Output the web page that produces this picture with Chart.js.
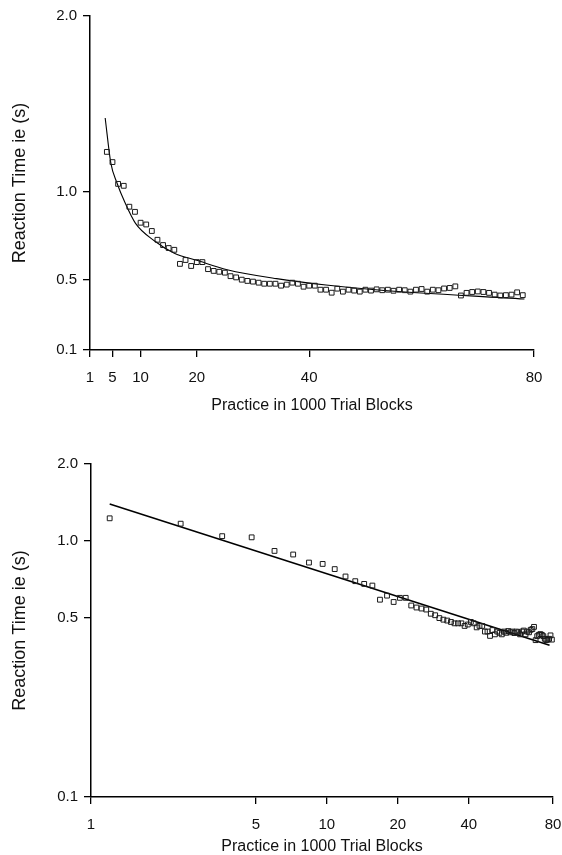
<!DOCTYPE html>
<html><head><meta charset="utf-8">
<script src="https://cdn.jsdelivr.net/npm/chart.js@4.4.1/dist/chart.umd.min.js"></script>
<style>
html,body{margin:0;padding:0;background:#fff;width:562px;height:855px;overflow:hidden}
canvas{position:absolute;left:0;display:block;background:#fff}
#c1{top:0}
#c2{top:425px}
</style></head><body>
<canvas id="c1" width="562" height="425"></canvas>
<canvas id="c2" width="562" height="430"></canvas>
<script>
// Reaction time per block (s)
const reactionTime = [1.227,1.169,1.045,1.034,0.915,0.886,0.824,0.814,0.777,0.727,
  0.697,0.680,0.670,0.590,0.612,0.578,0.600,0.600,0.560,0.550,
  0.545,0.540,0.520,0.513,0.500,0.493,0.489,0.483,0.477,0.477,
  0.477,0.466,0.472,0.483,0.477,0.460,0.466,0.466,0.443,0.443,
  0.426,0.449,0.432,0.443,0.438,0.432,0.443,0.438,0.445,0.440,
  0.443,0.437,0.443,0.440,0.432,0.443,0.447,0.432,0.443,0.440,
  0.450,0.453,0.462,0.410,0.425,0.430,0.433,0.430,0.425,0.415,
  0.410,0.412,0.415,0.428,0.412];
// x positions of the points in the top (linear) panel
const blocksTop = [4,5,6,7,8,9,10,11,12,13,14,15,16,17,18,19,20,21,22,23,24,25,26,27,28,29,30,
  31,32,33,34,35,36,37,38,39,40,41,42,43,44,45,46,47,48,49,50,51,52,53,54,55,56,57,58,59,60,
  61,62,63,64,65,66,67,68,69,70,71,72,73,74,75,76,77,78];
// x positions of the points in the bottom (log-log) panel
const blocksBottom = [1.2,2.4,3.6,4.8,6.0,7.2,8.4,9.6,10.8,12.0,13.2,14.4,15.6,16.8,18.0,19.2,20.4,
  21.6,22.8,24.0,25.2,26.4,27.6,28.8,30.0,31.2,32.4,33.6,34.8,36.0,37.2,38.4,39.6,40.8,42.0,43.2,
  44.4,45.6,46.8,48.0,49.2,50.4,51.6,52.8,54.0,55.2,56.4,57.6,58.8,60.0,61.2,62.4,63.6,64.8,66.0,
  67.2,68.4,69.6,70.8,72.0,73.2,74.4,75.6,76.8,78.0,79.2,80.4,81.6,82.8,84.0,85.2,86.4,87.6,88.8,90.0];
// fitted curve (top panel)
const fitCurveX = [3.7,4.7,5.8,7.2,9.1,12.5,16,20,25.4,34.2,43,51.8,78.3];
const fitCurveY = [1.42,1.165,1.05,0.94,0.82,0.72,0.65,0.61,0.557,0.506,0.47,0.443,0.39];
// fitted straight line (bottom panel)
const fitLineX = [1.2,88];
const fitLineY = [1.395,0.392];
// axis ticks
const yTickValues = [0.1,0.5,1.0,2.0];
const yTickLabels = ['0.1','0.5','1.0','2.0'];
const xTickValuesTop = [1,5,10,20,40,80];
const xTickValuesBottom = [1,5,10,20,40,91];
const xTickLabels = ['1','5','10','20','40','80'];
const yTitle = 'Reaction Time ie (s)';
const xTitle = 'Practice in 1000 Trial Blocks';

const FONT = '"Liberation Sans", Arial, Helvetica, sans-serif';
const INK = '#111';

function pts(xs, ys){ return xs.map((x,i)=>({x:x, y:ys[i]})); }

function axisCommon(){
  return {
    grid:{display:true, drawOnChartArea:false, drawTicks:true, tickLength:7, color:'#000', lineWidth:1.3},
    border:{display:true, color:'#000', width:1.5}
  };
}

function makeChart(id, cfg){
  const xAxis = Object.assign(axisCommon(), {
    type: cfg.xType, min: cfg.xMin, max: cfg.xMax,
    afterBuildTicks: s => { s.ticks = cfg.xTicks.map(v=>({value:v})); },
    afterFit: s => { s.height = cfg.xHeight; s.paddingLeft = 0; s.paddingRight = 0; },
    ticks:{autoSkip:false, maxRotation:0, padding:12, color:INK, font:{family:FONT, size:15},
      callback:(v,i)=>xTickLabels[i]},
    title:{display:true, text:xTitle, color:INK, font:{family:FONT, size:16, lineHeight:cfg.xTitleLH}, padding:{top:0,bottom:cfg.xTitlePad}}
  });
  const yAxis = Object.assign(axisCommon(), {
    type: cfg.yType, min:0.1, max:2.0,
    afterBuildTicks: s => { s.ticks = yTickValues.map(v=>({value:v})); },
    afterFit: s => { s.width = cfg.yWidth; s.paddingTop = 0; s.paddingBottom = 0; },
    ticks:{autoSkip:false, padding:6, color:INK, font:{family:FONT, size:15},
      callback:(v,i)=>yTickLabels[i]},
    title:{display:true, text:yTitle, color:INK, font:{family:FONT, size:18}, padding:{top:9,bottom:0}}
  });
  return new Chart(document.getElementById(id), {
    type:'scatter',
    data:{datasets:[
      {data: pts(cfg.px, reactionTime), showLine:false, pointStyle:'rect', pointRadius:3.4,
       pointBorderWidth:1, borderColor:'#1a1a1a', backgroundColor:'rgba(255,255,255,0)', clip:false},
      {data: cfg.line, showLine:true, pointRadius:0, borderColor:'#000', borderWidth:cfg.lineW,
       cubicInterpolationMode:'monotone', fill:false, clip:false}
    ]},
    options:{
      responsive:false, animation:false, devicePixelRatio:1,
      layout:{padding:cfg.pad},
      plugins:{legend:{display:false}, tooltip:{enabled:false}},
      scales:{x:xAxis, y:yAxis}
    }
  });
}

makeChart('c1', {
  xType:'linear', xMin:1, xMax:80, xTicks:xTickValuesTop, xHeight:75, xTitleLH:1.2, xTitlePad:10,
  yType:'linear', yWidth:90, px:blocksTop, line:pts(fitCurveX, fitCurveY), lineW:1.1,
  pad:{left:0, top:16, right:28, bottom:0}
});
makeChart('c2', {
  xType:'logarithmic', xMin:1, xMax:91, xTicks:xTickValuesBottom, xHeight:58, xTitleLH:1.0, xTitlePad:0,
  yType:'logarithmic', yWidth:91, px:blocksBottom, line:pts(fitLineX, fitLineY), lineW:1.6,
  pad:{left:0, top:39, right:9, bottom:0}
});
</script>
</body></html>
